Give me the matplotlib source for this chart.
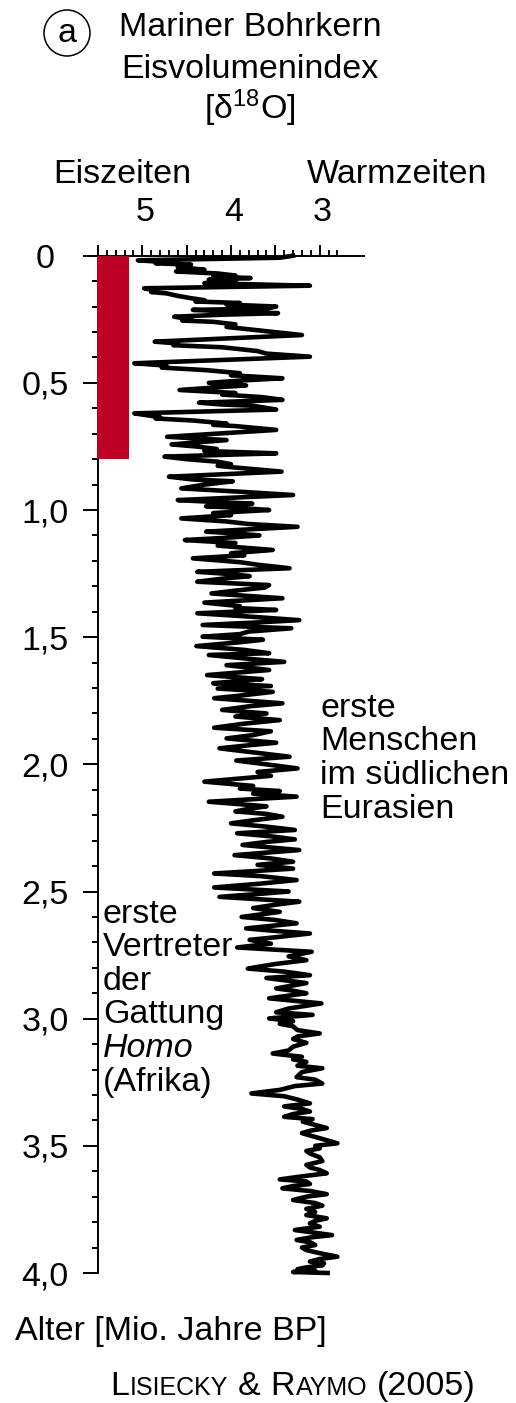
import numpy as np
import matplotlib
matplotlib.use('agg')
from matplotlib import pyplot as plt
from matplotlib.patches import Rectangle, Ellipse
from matplotlib.ticker import FixedLocator
from matplotlib.transforms import ScaledTranslation

plt.rcParams['font.family'] = 'Liberation Sans'
plt.rcParams['mathtext.fontset'] = 'custom'
plt.rcParams['mathtext.rm'] = 'Liberation Sans'
plt.rcParams['mathtext.it'] = 'Liberation Sans:italic'

# LR04 benthic stack (Lisiecki & Raymo 2005): age [Ma] and d18O [permil]
age = [
    0.000, 0.008, 0.018, 0.025, 0.030, 0.035, 0.045, 0.055, 0.062, 0.070,
    0.078, 0.082, 0.088, 0.094, 0.100, 0.108, 0.118, 0.128, 0.138, 0.143,
    0.148, 0.158, 0.166, 0.175, 0.180, 0.186, 0.192, 0.200, 0.208, 0.213,
    0.220, 0.226, 0.232, 0.240, 0.250, 0.255, 0.260, 0.270, 0.280, 0.295,
    0.312, 0.338, 0.345, 0.352, 0.360, 0.375, 0.385, 0.397, 0.423, 0.432,
    0.440, 0.450, 0.462, 0.470, 0.482, 0.490, 0.500, 0.510, 0.515, 0.528,
    0.540, 0.546, 0.556, 0.567, 0.578, 0.585, 0.590, 0.605, 0.620, 0.635,
    0.640, 0.648, 0.660, 0.665, 0.670, 0.685, 0.712, 0.718, 0.725, 0.732,
    0.742, 0.750, 0.760, 0.768, 0.777, 0.790, 0.800, 0.810, 0.820, 0.826,
    0.832, 0.849, 0.869, 0.880, 0.887, 0.900, 0.915, 0.922, 0.928, 0.941,
    0.961, 0.968, 0.975, 0.985, 0.992, 1.000, 1.012, 1.020, 1.033, 1.045,
    1.055, 1.066, 1.085, 1.092, 1.100, 1.110, 1.118, 1.130, 1.140, 1.157,
    1.170, 1.178, 1.190, 1.205, 1.215, 1.229, 1.243, 1.252, 1.260, 1.270,
    1.282, 1.295, 1.305, 1.315, 1.328, 1.347, 1.364, 1.378, 1.385, 1.393,
    1.406, 1.420, 1.433, 1.442, 1.452, 1.465, 1.478, 1.488, 1.498, 1.510,
    1.520, 1.535, 1.550, 1.563, 1.570, 1.585, 1.597, 1.610, 1.618, 1.629,
    1.649, 1.665, 1.672, 1.681, 1.692, 1.702, 1.715, 1.728, 1.740, 1.760,
    1.772, 1.786, 1.800, 1.812, 1.826, 1.840, 1.856, 1.870, 1.885, 1.898,
    1.915, 1.925, 1.937, 1.955, 1.970, 1.985, 2.000, 2.016, 2.030, 2.045,
    2.068, 2.085, 2.095, 2.105, 2.115, 2.127, 2.147, 2.165, 2.175, 2.185,
    2.195, 2.206, 2.220, 2.232, 2.245, 2.258, 2.271, 2.283, 2.295, 2.305,
    2.317, 2.337, 2.347, 2.357, 2.370, 2.383, 2.395, 2.410, 2.420, 2.429,
    2.440, 2.455, 2.470, 2.484, 2.500, 2.510, 2.521, 2.540, 2.552, 2.565,
    2.580, 2.600, 2.612, 2.625, 2.645, 2.655, 2.665, 2.680, 2.690, 2.705,
    2.720, 2.737, 2.755, 2.770, 2.785, 2.803, 2.815, 2.829, 2.840, 2.860,
    2.881, 2.890, 2.900, 2.920, 2.940, 2.960, 2.975, 2.985, 2.999, 3.010,
    3.020, 3.030, 3.045, 3.058, 3.070, 3.080, 3.095, 3.110, 3.125, 3.137,
    3.150, 3.160, 3.170, 3.185, 3.195, 3.210, 3.230, 3.240, 3.255, 3.265,
    3.280, 3.294, 3.305, 3.318, 3.333, 3.345, 3.355, 3.365, 3.375, 3.386,
    3.395, 3.405, 3.418, 3.430, 3.440, 3.450, 3.470, 3.490, 3.500, 3.510,
    3.520, 3.530, 3.545, 3.560, 3.575, 3.585, 3.595, 3.608, 3.620, 3.632,
    3.640, 3.650, 3.658, 3.667, 3.678, 3.690, 3.700, 3.713, 3.725, 3.735,
    3.748, 3.760, 3.772, 3.785, 3.795, 3.805, 3.818, 3.831, 3.851, 3.860,
    3.870, 3.880, 3.890, 3.900, 3.910, 3.922, 3.936, 3.945, 3.955, 3.962,
    3.970, 3.978, 3.985, 3.992, 3.996, 4.000,
]
d18o = [
    3.30, 3.45, 5.05, 4.75, 4.85, 4.45, 4.60, 4.30, 4.62, 4.15,
    3.95, 4.20, 3.78, 4.25, 3.95, 4.30, 3.11, 4.98, 4.85, 4.90,
    4.73, 4.60, 4.47, 4.30, 4.40, 3.90, 4.05, 3.49, 3.60, 4.43,
    3.95, 3.47, 4.10, 4.64, 4.45, 4.55, 4.20, 3.95, 4.05, 3.65,
    3.20, 4.86, 4.60, 4.65, 4.10, 3.70, 3.60, 3.11, 5.09, 4.73,
    4.78, 4.28, 3.90, 4.00, 3.42, 3.85, 4.25, 3.83, 4.05, 4.58,
    3.95, 4.10, 3.65, 3.42, 4.36, 4.10, 3.75, 3.49, 5.09, 4.80,
    4.85, 4.43, 4.05, 4.20, 3.95, 3.49, 4.72, 4.40, 4.05, 4.30,
    4.67, 4.40, 4.16, 4.30, 3.49, 4.75, 4.50, 4.15, 4.00, 4.15,
    3.98, 3.43, 4.70, 4.43, 3.98, 4.30, 4.56, 4.20, 3.90, 3.30,
    4.60, 4.20, 3.76, 4.28, 3.90, 3.57, 4.20, 4.00, 4.56, 4.05,
    3.80, 3.25, 4.28, 3.95, 3.68, 4.10, 4.52, 3.95, 4.15, 3.53,
    4.00, 3.85, 4.43, 3.90, 3.70, 3.34, 4.38, 4.00, 3.79, 4.10,
    4.38, 3.57, 3.62, 3.90, 4.22, 3.42, 4.30, 3.90, 3.95, 3.49,
    4.38, 3.75, 3.23, 3.70, 4.32, 3.32, 3.80, 3.90, 4.32, 3.64,
    3.90, 4.39, 3.85, 3.57, 4.25, 3.80, 3.40, 4.05, 3.85, 3.57,
    4.27, 3.65, 3.90, 4.20, 3.55, 4.15, 3.53, 3.85, 4.19, 3.42,
    3.80, 4.10, 3.60, 3.95, 3.45, 3.85, 4.19, 3.55, 3.75, 4.05,
    3.49, 3.80, 4.13, 3.70, 3.34, 3.94, 3.60, 3.25, 3.70, 3.55,
    4.30, 3.75, 3.90, 3.45, 3.75, 3.26, 4.25, 3.60, 3.80, 3.95,
    3.60, 3.42, 3.75, 4.00, 3.60, 3.28, 3.93, 3.55, 3.28, 3.60,
    3.87, 3.23, 3.60, 3.96, 3.55, 3.30, 3.70, 3.30, 3.75, 4.19,
    3.65, 3.26, 3.70, 4.19, 3.35, 3.70, 4.13, 3.23, 3.50, 3.75,
    3.45, 3.88, 3.50, 3.26, 3.83, 3.50, 3.11, 3.50, 3.79, 3.55,
    3.93, 3.09, 3.35, 3.15, 3.50, 3.81, 3.40, 3.11, 3.60, 3.15,
    3.49, 3.30, 3.15, 3.57, 2.98, 3.35, 3.49, 3.08, 3.57, 3.30,
    3.45, 3.30, 3.25, 3.00, 3.25, 3.30, 3.15, 3.30, 3.35, 3.53,
    3.20, 3.30, 3.15, 3.25, 2.97, 3.20, 3.26, 3.05, 2.97, 3.28,
    3.45, 3.77, 3.40, 3.25, 3.11, 3.40, 3.20, 3.11, 3.30, 3.40,
    3.08, 3.19, 3.05, 2.92, 3.10, 3.20, 3.00, 2.80, 3.05, 3.00,
    3.15, 3.11, 3.00, 2.97, 3.15, 3.11, 3.00, 2.92, 3.20, 3.45,
    3.15, 3.11, 3.30, 3.42, 3.10, 2.92, 3.15, 3.30, 3.05, 2.97,
    3.15, 3.05, 3.15, 2.92, 3.05, 3.11, 3.00, 3.28, 2.86, 3.10,
    3.26, 3.10, 3.05, 3.20, 3.15, 3.00, 2.80, 3.00, 3.11, 2.95,
    2.97, 3.15, 3.25, 3.05, 3.30, 2.91,
]
assert len(age) == len(d18o)

# early Pleistocene marker bar (0 - 0.8 Ma)
bar_top = 0.0
bar_bottom = 0.8
bar_color = '#BF0025'

age_labels = ['0', '0,5', '1,0', '1,5', '2,0', '2,5', '3,0', '3,5', '4,0']
age_major = [0.0, 0.5, 1.0, 1.5, 2.0, 2.5, 3.0, 3.5, 4.0]
d18o_major = [5.5, 5.0, 4.5, 4.0, 3.5, 3.0]
d18o_labels = ['', '5', '', '4', '', '3']

W, H = 516, 1403
fig = plt.figure(figsize=(W / 100, H / 100), dpi=100)


def px(x, y):
    return x / W, 1 - y / H


FS = 24.5

ax = fig.add_axes([98 / W, (H - 1273) / H, 266 / W, (1273 - 255.7) / H])
ax.plot(d18o, age, color='black', lw=3.3, zorder=2, clip_on=False)
ax.set_xlim(5.5, 2.5)
ax.set_ylim(4.0, 0.0)

for s in ['right', 'bottom']:
    ax.spines[s].set_visible(False)
for s in ['top', 'left']:
    ax.spines[s].set_linewidth(1.4)

ax.xaxis.tick_top()
ax.set_xticks(d18o_major)
ax.set_xticklabels(d18o_labels, fontsize=FS)
ax.xaxis.set_minor_locator(FixedLocator([round(2.8 + 0.1 * i, 1) for i in range(27)]))
ax.tick_params(axis='x', which='major', direction='out', length=8, width=1.4, pad=12)
ax.tick_params(axis='x', which='minor', direction='out', length=4.5, width=1.4)
shift = ScaledTranslation(3 / 100, 0, fig.dpi_scale_trans)
for lab in ax.get_xticklabels():
    lab.set_transform(lab.get_transform() + shift)

ax.set_yticks(age_major)
ax.set_yticklabels(age_labels, fontsize=FS)
ax.yaxis.set_minor_locator(FixedLocator([round(0.1 * i, 1) for i in range(41)]))
ax.tick_params(axis='y', which='major', direction='out', length=11, width=1.4, pad=27)
ax.tick_params(axis='y', which='minor', direction='out', length=4, width=1.4)
for lab in ax.get_yticklabels():
    lab.set_horizontalalignment('center')

# ticks inside the bar range are drawn in red
for t in ax.yaxis.get_major_ticks() + ax.yaxis.get_minor_ticks():
    if t.get_loc() <= bar_bottom + 1e-6:
        t.tick1line.set_color(bar_color)

ax.add_patch(Rectangle((5.515, bar_top), -0.36, bar_bottom - bar_top,
                       facecolor=bar_color, edgecolor='none', zorder=3, clip_on=False))

# header
ell = Ellipse(px(67, 33), 46 / W, 46 / H, transform=fig.transFigure,
              facecolor='none', edgecolor='black', lw=1.1)
fig.patches.append(ell)
fig.text(*px(67, 34), 'a', fontsize=FS, ha='center', va='center')
fig.text(*px(250, 36), 'Mariner Bohrkern', fontsize=FS, ha='center', va='baseline')
fig.text(*px(250, 78), 'Eisvolumenindex', fontsize=FS, ha='center', va='baseline')
fig.text(*px(250, 119), r'[δ$^{\mathrm{18}}$O]', fontsize=FS, ha='center', va='baseline')
fig.text(*px(122, 183), 'Eiszeiten', fontsize=FS, ha='center', va='baseline')
fig.text(*px(397, 183), 'Warmzeiten', fontsize=FS, ha='center', va='baseline')

# annotations
right_lines = ['erste', 'Menschen', 'im südlichen', 'Eurasien']
for i, s in enumerate(right_lines):
    fig.text(*px(320, 717 + 33.5 * i), s, fontsize=FS, ha='left', va='baseline')

left_lines = ['erste', 'Vertreter', 'der', 'Gattung', 'Homo', '(Afrika)']
for i, s in enumerate(left_lines):
    fig.text(*px(103, 923 + 33.5 * i), s, fontsize=FS, ha='left', va='baseline',
             style='italic' if s == 'Homo' else 'normal')

fig.text(*px(15, 1340), 'Alter [Mio. Jahre BP]', fontsize=FS, ha='left', va='baseline')

# citation in small caps
renderer = fig.canvas.get_renderer()
space = 9.5
pieces = [('L', FS, 0), ('ISIECKY', 18, 1), ('&', FS, space), ('R', FS, space),
          ('AYMO', 18, 1), ('(2005)', FS, space)]
xpos = 110
for s, size, gap in pieces:
    xpos += gap
    t = fig.text(*px(xpos, 1395), s, fontsize=size, ha='left', va='baseline')
    bb = t.get_window_extent(renderer)
    xpos += bb.width

fig.savefig('out.png', dpi=100)
